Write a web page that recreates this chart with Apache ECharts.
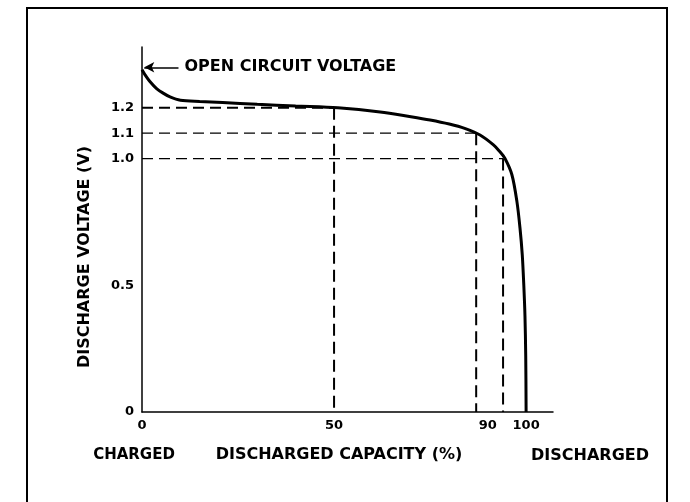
<!DOCTYPE html>
<html>
<head>
<meta charset="utf-8">
<script src="https://cdn.jsdelivr.net/npm/echarts@6/dist/echarts.min.js"></script>
<style>
  html, body { margin: 0; padding: 0; background: #fff; }
  #chart { width: 690px; height: 502px; }
</style>
</head>
<body>
<div id="chart"></div>
<script>
// discharge curve
var capacity = [0, 0.8, 2, 3.8, 5.5, 7.3, 10, 15, 21, 30, 40, 51, 62, 70, 75, 80, 84, 88, 91.5, 93, 94.5, 96.3, 97.6, 98.4, 99.0, 99.4, 99.7, 99.9, 100]
var voltage = [1.35, 1.33, 1.305, 1.276, 1.258, 1.243, 1.23, 1.225, 1.221, 1.214, 1.207, 1.2, 1.184, 1.165, 1.152, 1.136, 1.119, 1.093, 1.054, 1.03, 1.0, 0.936, 0.831, 0.727, 0.62, 0.5, 0.38, 0.22, 0]

// dashed guide lines: capacity reached at each cut-off voltage
var guideCapacity = [50, 87, 94]
var guideVoltage = [1.2, 1.1, 1.0]

var xTicks = [0, 50, 90, 100]
var yTicks = [0, 0.5, 1.0, 1.1, 1.2]

var font = 'DejaVu Sans'

var guideSeries = []
guideCapacity.forEach(function(c, i) {
  var v = guideVoltage[i]
  var heavy = i === 0
  guideSeries.push({
    type: 'line',
    data: [[0, v], [c, v]],
    symbol: 'none',
    silent: true,
    lineStyle: { color: '#000', width: heavy ? 2 : 1.2, type: [11, 6] }
  })
  guideSeries.push({
    type: 'line',
    data: [[c, v], [c, 0]],
    symbol: 'none',
    silent: true,
    lineStyle: { color: '#000', width: 2, type: [12, 6] }
  })
})

var chart = echarts.init(document.getElementById('chart'))
chart.setOption({
  animation: false,
  backgroundColor: '#fff',
  grid: { left: 142, right: 137, top: 47, bottom: 90 },
  xAxis: {
    type: 'value',
    min: 0,
    max: 107,
    splitLine: { show: false },
    axisTick: { show: false },
    axisLine: { lineStyle: { color: '#000', width: 1.5 } },
    axisLabel: {
      customValues: xTicks,
      color: '#000',
      fontFamily: font,
      fontWeight: 'bold',
      fontSize: 13,
      margin: 7
    }
  },
  yAxis: {
    type: 'value',
    min: 0,
    max: 1.44,
    splitLine: { show: false },
    axisTick: { show: false },
    axisLine: { show: true, lineStyle: { color: '#000', width: 1.5 } },
    axisLabel: {
      customValues: yTicks,
      color: '#000',
      fontFamily: font,
      fontWeight: 'bold',
      fontSize: 13,
      margin: 8,
      formatter: function(v) {
        return v === 0 ? '0' : v.toFixed(1)
      }
    }
  },
  series: [{
    type: 'line',
    data: capacity.map(function(c, i) { return [c, voltage[i]] }),
    symbol: 'none',
    smooth: 0.3,
    lineStyle: { color: '#000', width: 3 },
    markLine: {
      silent: true,
      symbol: ['none', 'arrow'],
      symbolSize: [8, 10],
      lineStyle: { color: '#000', width: 1.5, type: 'solid' },
      label: {
        show: true,
        position: 'start',
        distance: 6,
        formatter: 'OPEN CIRCUIT VOLTAGE',
        color: '#000',
        fontFamily: font,
        fontWeight: 'bold',
        fontSize: 16
      },
      data: [[{ coord: [9.5, 1.36] }, { coord: [0.6, 1.36] }]]
    }
  }].concat(guideSeries),
  graphic: [
    {
      type: 'rect',
      shape: { x: 27, y: 8, width: 640, height: 520 },
      style: { fill: 'none', stroke: '#000', lineWidth: 2 }
    },
    {
      type: 'text',
      x: 85,
      y: 257,
      rotation: Math.PI / 2,
      style: {
        text: 'DISCHARGE VOLTAGE (V)',
        fill: '#000',
        font: 'bold 16px "DejaVu Sans"',
        align: 'center',
        verticalAlign: 'middle'
      }
    },
    {
      type: 'text',
      x: 134,
      y: 455,
      style: {
        text: 'CHARGED',
        fill: '#000',
        font: 'bold 15px "DejaVu Sans"',
        align: 'center',
        verticalAlign: 'middle'
      }
    },
    {
      type: 'text',
      x: 339,
      y: 455,
      style: {
        text: 'DISCHARGED CAPACITY (%)',
        fill: '#000',
        font: 'bold 16px "DejaVu Sans"',
        align: 'center',
        verticalAlign: 'middle'
      }
    },
    {
      type: 'text',
      x: 590,
      y: 456,
      style: {
        text: 'DISCHARGED',
        fill: '#000',
        font: 'bold 16px "DejaVu Sans"',
        align: 'center',
        verticalAlign: 'middle'
      }
    }
  ]
})
</script>
</body>
</html>
